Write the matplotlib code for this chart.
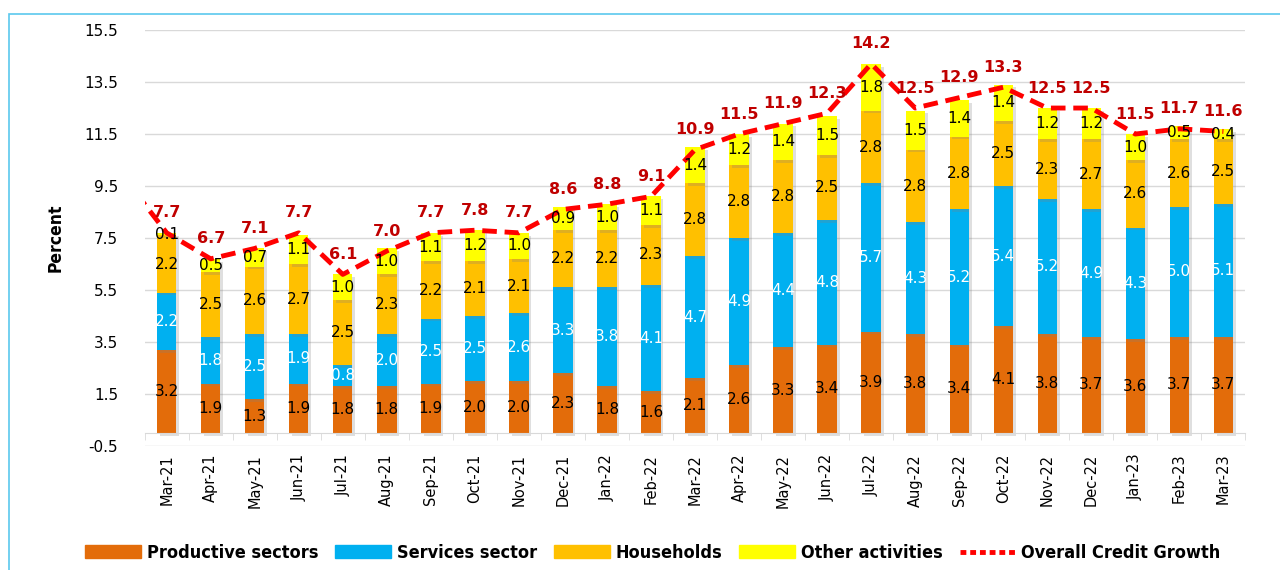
import numpy as np
import matplotlib.pyplot as plt
import matplotlib.patheffects as pe
from matplotlib.patches import Rectangle
from matplotlib.lines import Line2D
from matplotlib import font_manager

months = ["Mar-21", "Apr-21", "May-21", "Jun-21", "Jul-21", "Aug-21", "Sep-21", "Oct-21",
          "Nov-21", "Dec-21", "Jan-22", "Feb-22", "Mar-22", "Apr-22", "May-22", "Jun-22",
          "Jul-22", "Aug-22", "Sep-22", "Oct-22", "Nov-22", "Dec-22", "Jan-23", "Feb-23", "Mar-23"]
productive = [3.2, 1.9, 1.3, 1.9, 1.8, 1.8, 1.9, 2.0, 2.0, 2.3, 1.8, 1.6, 2.1, 2.6, 3.3, 3.4,
              3.9, 3.8, 3.4, 4.1, 3.8, 3.7, 3.6, 3.7, 3.7]
services = [2.2, 1.8, 2.5, 1.9, 0.8, 2.0, 2.5, 2.5, 2.6, 3.3, 3.8, 4.1, 4.7, 4.9, 4.4, 4.8,
            5.7, 4.3, 5.2, 5.4, 5.2, 4.9, 4.3, 5.0, 5.1]
households = [2.2, 2.5, 2.6, 2.7, 2.5, 2.3, 2.2, 2.1, 2.1, 2.2, 2.2, 2.3, 2.8, 2.8, 2.8, 2.5,
              2.8, 2.8, 2.8, 2.5, 2.3, 2.7, 2.6, 2.6, 2.5]
other = [0.1, 0.5, 0.7, 1.1, 1.0, 1.0, 1.1, 1.2, 1.0, 0.9, 1.0, 1.1, 1.4, 1.2, 1.4, 1.5,
         1.8, 1.5, 1.4, 1.4, 1.2, 1.2, 1.0, 0.5, 0.4]
overall = [7.7, 6.7, 7.1, 7.7, 6.1, 7.0, 7.7, 7.8, 7.7, 8.6, 8.8, 9.1, 10.9, 11.5, 11.9, 12.3,
           14.2, 12.5, 12.9, 13.3, 12.5, 12.5, 11.5, 11.7, 11.6]
prev_overall = 9.9  # Feb-21, only the tail of the line shows at the left edge

series = [("Productive sectors", productive, "#E36C0A", "black"),
          ("Services sector", services, "#00B0F0", "white"),
          ("Households", households, "#FFC000", "black"),
          ("Other activities", other, "#FFFF00", "black")]

# a condensed face for the legend / axis title, if one is around
fonts = font_manager.fontManager.ttflist
cond = [f for f in fonts if "condensed" in str(f.stretch).lower() or "Narrow" in f.name]
narrow = dict(family=cond[0].name, stretch="condensed") if cond else dict(family="DejaVu Sans")

fig = plt.figure(figsize=(12.8, 5.7), dpi=100)
ax = fig.add_axes([0.113, 0.2175, 0.86, 0.7298])

x = np.arange(len(months))
bottom = np.zeros(len(months))
shadow = [pe.SimplePatchShadow(offset=(2, -2), alpha=0.25, shadow_rgbFace="gray"), pe.Normal()]
for name, vals, col, tcol in series:
    vals = np.array(vals)
    bars = ax.bar(x, vals, 0.44, bottom=bottom, color=col, zorder=2)
    for b in bars:
        b.set_path_effects(shadow)
    for xi, b0, v in zip(x, bottom, vals):
        ax.text(xi, b0 + v / 2, f"{v:.1f}", ha="center", va="center",
                fontsize=11, color=tcol, zorder=4)
    bottom += vals

xl = np.concatenate([[-1], x])
yl = np.concatenate([[prev_overall], overall])
ax.plot(xl, yl, color="#FF0000", lw=3.5, ls=(0, (3, 1.6)), zorder=3)
for xi, v in zip(x, overall):
    ax.annotate(f"{v:.1f}", (xi, v), xytext=(0, 9), textcoords="offset points",
                ha="center", va="bottom", fontsize=11.5, fontweight="bold",
                color="#C00000", zorder=5)

ax.set_xlim(-0.5, len(months) - 0.5)
ax.set_ylim(-0.5, 15.5)
yt = np.arange(-0.5, 15.6, 2)
ax.set_yticks(yt)
ax.set_yticklabels([f"{t:.1f}" for t in yt], fontsize=11)
ax.yaxis.grid(True, color="#D9D9D9", lw=1)
ax.set_axisbelow(True)
ax.tick_params(axis="y", length=0, pad=19)

for s in ["top", "right", "left"]:
    ax.spines[s].set_visible(False)
ax.spines["bottom"].set_position(("data", 0))
ax.spines["bottom"].set_color("#D9D9D9")
ax.set_xticks(x)
ax.set_xticklabels(months, rotation=90, fontsize=10.5)
ax.set_xticks(np.arange(-0.5, len(months), 1), minor=True)
ax.tick_params(axis="x", which="major", length=0, pad=15)
ax.tick_params(axis="x", which="minor", length=5, color="#D9D9D9")

ax.set_ylabel("Percent", fontsize=12.5, fontweight="bold", labelpad=14, **narrow)

handles = [Rectangle((0, 0), 1, 1, color=c) for _, _, c, _ in series]
handles.append(Line2D([], [], color="#FF0000", lw=3.5, ls=(0, (1.2, 0.8))))
labels = [s[0] for s in series] + ["Overall Credit Growth"]
prop = dict(weight="bold", size=13 if cond else 10.5, **narrow)
fig.legend(handles, labels, loc="center", bbox_to_anchor=(0.51, 0.03), ncol=5,
           frameon=False, prop=prop,
           handlelength=3.1, handleheight=0.7, columnspacing=0.95, handletextpad=0.3)

fig.add_artist(Rectangle((0.007, -0.1), 1.1, 1.075, transform=fig.transFigure,
                         fill=False, edgecolor="#5BC8EE", lw=1.2))

fig.savefig("out.png", dpi=100)
